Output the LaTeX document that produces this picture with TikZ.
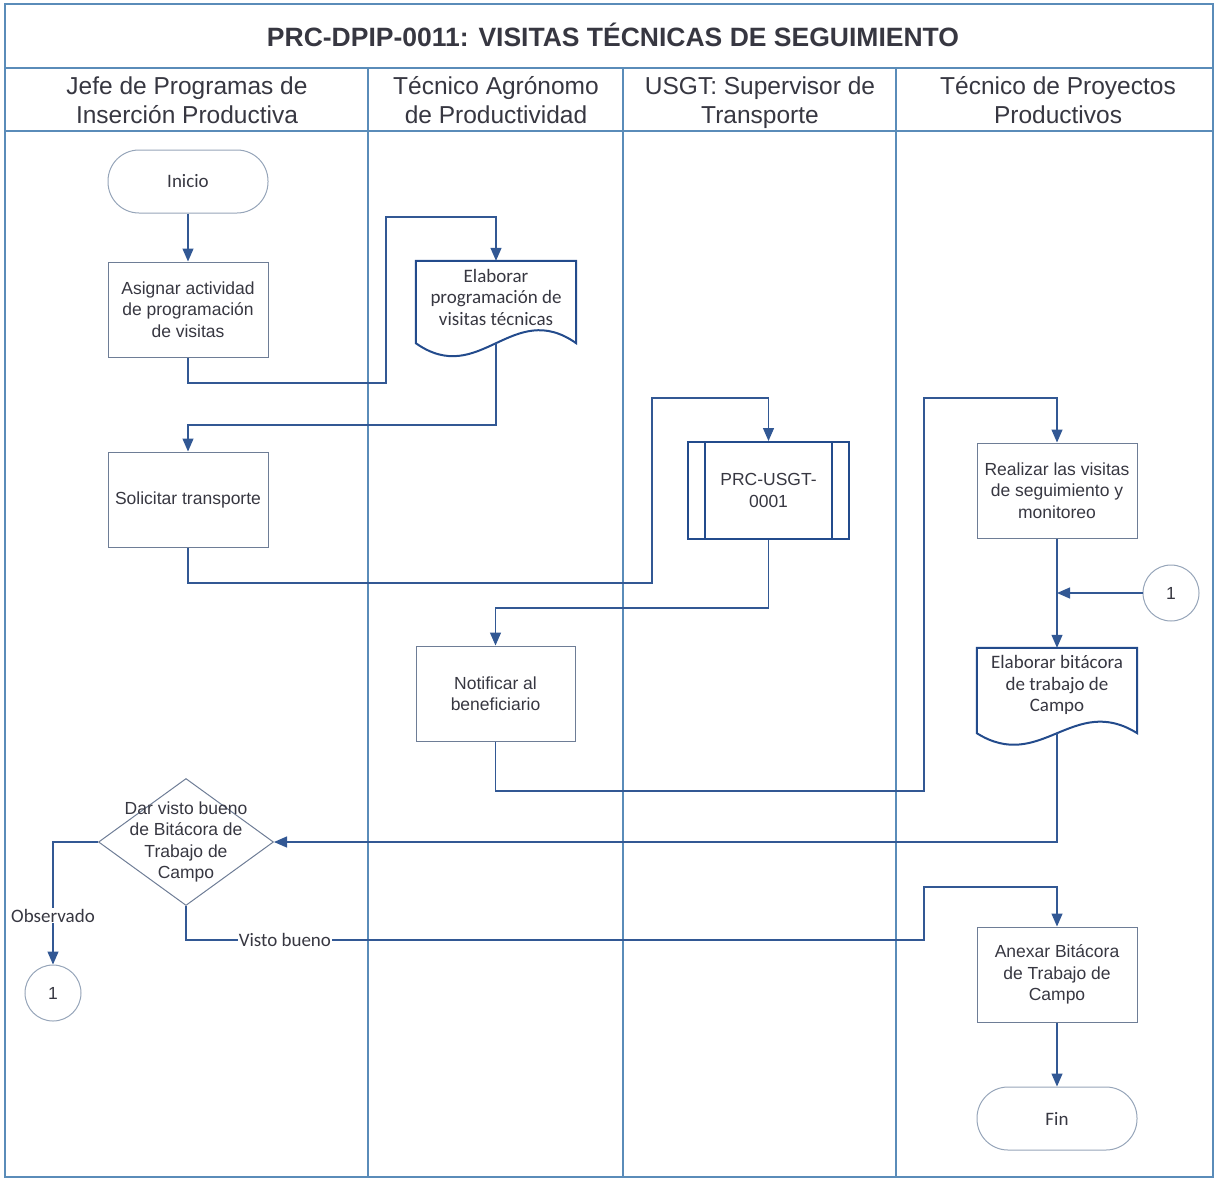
\documentclass[tikz,border=0pt]{standalone}
\usepackage{fontspec}
\setmainfont{Liberation Sans}
\newfontfamily\calib{Carlito}
\usetikzlibrary{arrows.meta,shapes.geometric,calc}

\definecolor{lanecol}{RGB}{90,140,185}
\definecolor{conncol}{RGB}{50,88,148}
\definecolor{boxcol}{RGB}{110,125,150}
\definecolor{darkcol}{RGB}{35,75,140}
\definecolor{softcol}{RGB}{150,165,185}
\definecolor{txtcol}{RGB}{55,55,65}

\begin{document}
\begin{tikzpicture}[x=1pt,y=-1pt,
  every node/.style={text=txtcol},
  lane/.style={draw=lanecol,line width=1.2pt},
  flow/.style={draw=conncol,line width=1.3pt,-{Triangle[width=11pt,length=13pt]}},
  proc/.style={draw=boxcol,line width=1pt,minimum width=160pt,minimum height=95pt,
    inner sep=0pt,align=center,font=\fontsize{17.5}{21.5}\selectfont},
  term/.style={draw=softcol,line width=1pt,rounded corners=31pt,minimum width=160pt,
    minimum height=63pt,inner sep=0pt,font=\calib\fontsize{19}{22}\selectfont},
  docarea/.style={minimum width=160pt,inner sep=0pt},
  docline/.style={draw=darkcol,line width=2pt},
  doctext/.style={align=center,inner sep=0pt,font=\calib\fontsize{19}{21.5}\selectfont},
  predef/.style={draw=darkcol,line width=2pt,minimum width=161pt,minimum height=97pt,
    inner sep=0pt,align=center,font=\fontsize{17.5}{21.5}\selectfont},
  decision/.style={draw=boxcol,line width=1pt,diamond,minimum width=175pt,
    minimum height=127pt,inner sep=0pt},
  onpage/.style={draw=softcol,line width=1pt,circle,minimum size=56pt,inner sep=0pt,
    font=\fontsize{17.5}{20}\selectfont},
  tag/.style={fill=white,inner sep=1pt,font=\calib\fontsize{19}{22}\selectfont},
  head/.style={align=center,inner sep=0pt,font=\fontsize{24.5}{29}\selectfont}]

\useasboundingbox (0,0) rectangle (1217,1180);

% swimlane frame
\draw[lane] (5,4) rectangle (1213,1177);
\draw[lane] (5,68) -- (1213,68);
\draw[lane] (5,131) -- (1213,131);
\foreach \xx in {368,623,896} \draw[lane] (\xx,68) -- (\xx,1177);

\node[font=\bfseries\fontsize{26.5}{30}\selectfont] (title) at (613,35)
  {PRC-DPIP-0011: VISITAS TÉCNICAS DE SEGUIMIENTO};
\node[head] (h1) at (187,103) {Jefe de Programas de\strut\\Inserción Productiva\strut};
\node[head] (h2) at (496,103) {Técnico Agrónomo\strut\\de Productividad\strut};
\node[head] (h3) at (760,103) {USGT: Supervisor de\strut\\Transporte\strut};
\node[head] (h4) at (1058,103) {Técnico de Proyectos\strut\\Productivos\strut};

% activities
\node[term] (ini) at (188,181.5) {Inicio};
\node[proc] (asig) at (188,309.5) {Asignar actividad\\de programación\\de visitas};

\node[docarea,minimum height=82pt] (elab) at (496,302) {};
\draw[docline] (elab.south west) -- (elab.north west) -- (elab.north east) -- (elab.south east)
  .. controls ($(elab.south east)+(-64,-45)$) and ($(elab.south west)+(64,45)$) .. (elab.south west) -- cycle;
\node[doctext] (elabt) at (496,297) {Elaborar\\programación de\\visitas técnicas};

\node[proc] (sol) at (188,499.5) {Solicitar transporte};

\node[predef] (prc) at (768.5,490.5) {PRC-USGT-\\0001};
\draw[docline] ($(prc.north west)+(18,0)$) -- ($(prc.south west)+(18,0)$);
\draw[docline] ($(prc.north east)+(-18,0)$) -- ($(prc.south east)+(-18,0)$);

\node[proc,minimum width=159pt] (noti) at (495.5,693.5) {Notificar al\\beneficiario};

\node[proc] (real) at (1057,490.5) {Realizar las visitas\\de seguimiento y\\monitoreo};
\node[onpage] (c1r) at (1171,593) {1};

\node[docarea,minimum height=85pt] (bita) at (1057,690.5) {};
\draw[docline] (bita.south west) -- (bita.north west) -- (bita.north east) -- (bita.south east)
  .. controls ($(bita.south east)+(-64,-40)$) and ($(bita.south west)+(64,40)$) .. (bita.south west) -- cycle;
\node[doctext] (bitat) at (1057,685) {Elaborar bitácora\\de trabajo de\\Campo};

\node[decision] (dec) at (186,842) {};
\node[align=center,inner sep=0pt,font=\fontsize{17.5}{21.5}\selectfont] (dect) at (186,842)
  {Dar visto bueno\\de Bitácora de\\Trabajo de\\Campo};
\node[onpage] (c1l) at (53,993) {1};

\node[proc] (anex) at (1057,974.5) {Anexar Bitácora\\de Trabajo de\\Campo};
\node[term] (fin) at (1057,1118.5) {Fin};

% flow connectors
\draw[flow] (ini) -- (asig);
\draw[flow] (asig.south) |- (386,383) -- (386,217) -| (elab.north);
\draw[flow] (elab.south) -- (496,425) -| (sol.north);
\draw[flow] (sol.south) |- (652,583) -- (652,398) -| (prc.north);
\draw[flow] (prc.south) -- ++(0,68) -| (noti.north);
\draw[flow] (noti.south) |- (924,791) -- (924,398) -| (real.north);
\draw[flow] (real) -- (bita.north);
\draw[flow] (c1r) -- (c1r -| real.south);
\draw[flow] (bita.south) |- (dec.east);
\draw[flow] (dec.west) -| node[tag,pos=0.8] (obs) {Observado} (c1l.north);
\draw[flow] (dec.south) |- node[tag,pos=0.567] (vb) {Visto bueno} (924,940)
  -- (924,887) -| (anex.north);
\draw[flow] (anex) -- (fin);
\end{tikzpicture}
\end{document}
